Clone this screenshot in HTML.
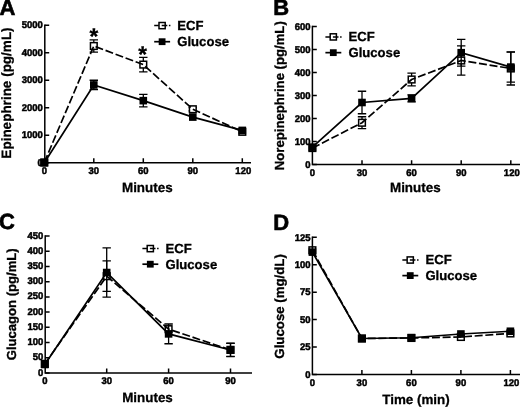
<!DOCTYPE html>
<html><head><meta charset="utf-8"><title>Figure</title>
<style>
html,body{margin:0;padding:0;background:#fff;}
svg{display:block;filter:blur(0.35px);}
text{font-family:"Liberation Sans", sans-serif;font-weight:bold;fill:#000;stroke:#000;stroke-width:0.3px;text-rendering:geometricPrecision;}
.tk{font-size:9.8px;stroke-width:0.5px;}
.lg{font-size:13.1px;}
.ax{font-size:13.4px;}
.lt{font-size:22px;stroke-width:0.6px;}
.st{font-size:22.5px;}
</style></head><body>
<svg width="520" height="407" viewBox="0 0 520 407">
<rect width="520" height="407" fill="#fff"/>
<text transform="translate(42.9 165.65) scale(0.97,1)" text-anchor="end" class="tk">0</text>
<text transform="translate(42.9 138.17) scale(0.97,1)" text-anchor="end" class="tk">1000</text>
<text transform="translate(42.9 110.69) scale(0.97,1)" text-anchor="end" class="tk">2000</text>
<text transform="translate(42.9 83.21) scale(0.97,1)" text-anchor="end" class="tk">3000</text>
<text transform="translate(42.9 55.73) scale(0.97,1)" text-anchor="end" class="tk">4000</text>
<text transform="translate(42.9 28.25) scale(0.97,1)" text-anchor="end" class="tk">5000</text>
<text transform="translate(44.3 173.9) scale(0.97,1)" text-anchor="middle" class="tk">0</text>
<text transform="translate(93.8 173.9) scale(0.97,1)" text-anchor="middle" class="tk">30</text>
<text transform="translate(143.3 173.9) scale(0.97,1)" text-anchor="middle" class="tk">60</text>
<text transform="translate(192.8 173.9) scale(0.97,1)" text-anchor="middle" class="tk">90</text>
<text transform="translate(243.3 173.9) scale(0.97,1)" text-anchor="middle" class="tk">120</text>
<path d="M93.8 39.95V52.04M89.6 39.95h8.4M89.6 52.04h8.4M143.3 57.31V71.88M139.1 57.31h8.4M139.1 71.88h8.4M192.8 107.6V110.9M188.6 107.6h8.4M188.6 110.9h8.4" fill="none" stroke="#000" stroke-width="1.3"/>
<rect x="40.95" y="159.08" width="6.7" height="6.7" fill="#fff" stroke="#000" stroke-width="1.5"/>
<rect x="90.45" y="42.64" width="6.7" height="6.7" fill="#fff" stroke="#000" stroke-width="1.5"/>
<rect x="139.95" y="61.25" width="6.7" height="6.7" fill="#fff" stroke="#000" stroke-width="1.5"/>
<rect x="189.45" y="105.9" width="6.7" height="6.7" fill="#fff" stroke="#000" stroke-width="1.5"/>
<rect x="238.95" y="128.46" width="6.7" height="6.7" fill="#fff" stroke="#000" stroke-width="1.5"/>
<path d="M44.3 162.43 L93.8 45.99 L143.3 64.6 L192.8 109.25 L242.3 131.81" fill="none" stroke="#000" stroke-width="1.7" stroke-dasharray="8 2.7" stroke-dashoffset="0"/>
<path d="M93.8 80.26V89.66M89.6 80.26h8.4M89.6 89.66h8.4M143.3 94.47V106.83M139.1 94.47h8.4M139.1 106.83h8.4" fill="none" stroke="#000" stroke-width="1.3"/>
<rect x="40.5" y="158.9" width="7.6" height="7.6" fill="#000"/>
<rect x="90" y="81.16" width="7.6" height="7.6" fill="#000"/>
<rect x="139.5" y="96.85" width="7.6" height="7.6" fill="#000"/>
<rect x="189" y="113.28" width="7.6" height="7.6" fill="#000"/>
<rect x="238.5" y="126.61" width="7.6" height="7.6" fill="#000"/>
<path d="M44.3 162.7 L93.8 84.96 L143.3 100.65 L192.8 117.08 L242.3 130.41" fill="none" stroke="#000" stroke-width="1.7"/>
<path d="M44.8 24.55V162.7H251" fill="none" stroke="#000" stroke-width="1.5" stroke-linejoin="miter"/>
<path d="M44.8 162.7h4.4M44.8 135.22h4.4M44.8 107.74h4.4M44.8 80.26h4.4M44.8 52.78h4.4M44.8 25.3h4.4M93.8 162.7v-4.4M143.3 162.7v-4.4M192.8 162.7v-4.4M242.3 162.7v-4.4" stroke="#000" stroke-width="1.5" fill="none"/>
<rect x="159" y="22.5" width="6.2" height="6.2" fill="#fff" stroke="#000" stroke-width="1.5"/>
<path d="M154.2 25.6h4.6M161.7 25.6h5.6M168.9 25.6h1.5" stroke="#000" stroke-width="1.5" fill="none"/>
<path d="M154.2 41.7h15.9" stroke="#000" stroke-width="1.7" fill="none"/>
<rect x="158.7" y="38.3" width="6.8" height="6.8" fill="#000"/>
<text x="177.3" y="30" class="lg">ECF</text>
<text x="177.3" y="46.3" class="lg">Glucose</text>
<text x="-0.6" y="14.8" class="lt">A</text>
<text transform="translate(11.2 93) rotate(-90)" text-anchor="middle" class="ax" style="font-size:13.5px">Epinephrine (pg/mL)</text>
<text x="147.3" y="192.1" text-anchor="middle" class="ax">Minutes</text>
<text x="93.8" y="44.4" text-anchor="middle" class="st">*</text>
<text x="142.7" y="61.6" text-anchor="middle" class="st">*</text>
<text transform="translate(310.5 168.3) scale(0.97,1)" text-anchor="end" class="tk">0</text>
<text transform="translate(310.5 145.3) scale(0.97,1)" text-anchor="end" class="tk">100</text>
<text transform="translate(310.5 122.3) scale(0.97,1)" text-anchor="end" class="tk">200</text>
<text transform="translate(310.5 99.3) scale(0.97,1)" text-anchor="end" class="tk">300</text>
<text transform="translate(310.5 76.3) scale(0.97,1)" text-anchor="end" class="tk">400</text>
<text transform="translate(310.5 53.3) scale(0.97,1)" text-anchor="end" class="tk">500</text>
<text transform="translate(310.5 30.3) scale(0.97,1)" text-anchor="end" class="tk">600</text>
<text transform="translate(312.4 175.8) scale(0.97,1)" text-anchor="middle" class="tk">0</text>
<text transform="translate(362 175.8) scale(0.97,1)" text-anchor="middle" class="tk">30</text>
<text transform="translate(411.6 175.8) scale(0.97,1)" text-anchor="middle" class="tk">60</text>
<text transform="translate(461.2 175.8) scale(0.97,1)" text-anchor="middle" class="tk">90</text>
<text transform="translate(511.8 175.8) scale(0.97,1)" text-anchor="middle" class="tk">120</text>
<path d="M362 116.76V128.72M357.8 116.76h8.4M357.8 128.72h8.4M411.6 73.06V85.94M407.4 73.06h8.4M407.4 85.94h8.4M461.2 45.78V75.22M457 45.78h8.4M457 75.22h8.4M510.8 51.9V85.02M506.6 51.9h8.4M506.6 85.02h8.4" fill="none" stroke="#000" stroke-width="1.3"/>
<rect x="309.05" y="144.69" width="6.7" height="6.7" fill="#fff" stroke="#000" stroke-width="1.5"/>
<rect x="358.65" y="119.39" width="6.7" height="6.7" fill="#fff" stroke="#000" stroke-width="1.5"/>
<rect x="408.25" y="76.15" width="6.7" height="6.7" fill="#fff" stroke="#000" stroke-width="1.5"/>
<rect x="457.85" y="57.15" width="6.7" height="6.7" fill="#fff" stroke="#000" stroke-width="1.5"/>
<rect x="507.45" y="65.11" width="6.7" height="6.7" fill="#fff" stroke="#000" stroke-width="1.5"/>
<path d="M312.4 148.04 L362 122.74 L411.6 79.5 L461.2 60.5 L510.8 68.46" fill="none" stroke="#000" stroke-width="1.7" stroke-dasharray="8 2.7" stroke-dashoffset="0"/>
<path d="M362 91.23V113.77M357.8 91.23h8.4M357.8 113.77h8.4M411.6 94.91V101.81M407.4 94.91h8.4M407.4 101.81h8.4M461.2 39.36V66.04M457 39.36h8.4M457 66.04h8.4M510.8 52.13V82.03M506.6 52.13h8.4M506.6 82.03h8.4" fill="none" stroke="#000" stroke-width="1.3"/>
<rect x="308.6" y="143.32" width="7.6" height="7.6" fill="#000"/>
<rect x="358.2" y="98.7" width="7.6" height="7.6" fill="#000"/>
<rect x="407.8" y="94.56" width="7.6" height="7.6" fill="#000"/>
<rect x="457.4" y="48.9" width="7.6" height="7.6" fill="#000"/>
<rect x="507" y="63.28" width="7.6" height="7.6" fill="#000"/>
<path d="M312.4 147.12 L362 102.5 L411.6 98.36 L461.2 52.7 L510.8 67.08" fill="none" stroke="#000" stroke-width="1.7"/>
<path d="M312.4 25.85V164.6H520" fill="none" stroke="#000" stroke-width="1.5" stroke-linejoin="miter"/>
<path d="M312.4 164.6h4.4M312.4 141.6h4.4M312.4 118.6h4.4M312.4 95.6h4.4M312.4 72.6h4.4M312.4 49.6h4.4M312.4 26.6h4.4M362 164.6v-4.4M411.6 164.6v-4.4M461.2 164.6v-4.4M510.8 164.6v-4.4" stroke="#000" stroke-width="1.5" fill="none"/>
<rect x="330.2" y="33.8" width="6.2" height="6.2" fill="#fff" stroke="#000" stroke-width="1.5"/>
<path d="M325.4 36.9h4.6M332.9 36.9h5.6M340.1 36.9h1.5" stroke="#000" stroke-width="1.5" fill="none"/>
<path d="M325.4 52.65h15.9" stroke="#000" stroke-width="1.7" fill="none"/>
<rect x="329.9" y="49.25" width="6.8" height="6.8" fill="#000"/>
<text x="348.5" y="41.3" class="lg">ECF</text>
<text x="348.5" y="57.25" class="lg">Glucose</text>
<text x="273.2" y="14.8" class="lt">B</text>
<text transform="translate(284.1 95.7) rotate(-90)" text-anchor="middle" class="ax" style="font-size:13.15px">Norepinephrine (pg/mL)</text>
<text x="415.3" y="191.8" text-anchor="middle" class="ax">Minutes</text>
<text transform="translate(43.3 375.6) scale(0.97,1)" text-anchor="end" class="tk">0</text>
<text transform="translate(43.3 360.38) scale(0.97,1)" text-anchor="end" class="tk">50</text>
<text transform="translate(43.3 345.16) scale(0.97,1)" text-anchor="end" class="tk">100</text>
<text transform="translate(43.3 329.93) scale(0.97,1)" text-anchor="end" class="tk">150</text>
<text transform="translate(43.3 314.71) scale(0.97,1)" text-anchor="end" class="tk">200</text>
<text transform="translate(43.3 299.49) scale(0.97,1)" text-anchor="end" class="tk">250</text>
<text transform="translate(43.3 284.27) scale(0.97,1)" text-anchor="end" class="tk">300</text>
<text transform="translate(43.3 269.04) scale(0.97,1)" text-anchor="end" class="tk">350</text>
<text transform="translate(43.3 253.82) scale(0.97,1)" text-anchor="end" class="tk">400</text>
<text transform="translate(43.3 238.6) scale(0.97,1)" text-anchor="end" class="tk">450</text>
<text transform="translate(44.8 384.2) scale(0.97,1)" text-anchor="middle" class="tk">0</text>
<text transform="translate(106.7 384.2) scale(0.97,1)" text-anchor="middle" class="tk">30</text>
<text transform="translate(168.6 384.2) scale(0.97,1)" text-anchor="middle" class="tk">60</text>
<text transform="translate(230.5 384.2) scale(0.97,1)" text-anchor="middle" class="tk">90</text>
<path d="M106.7 260.96V291.41M102.5 260.96h8.4M102.5 291.41h8.4M230.5 343.26V356.47M226.3 343.26h8.4M226.3 356.47h8.4" fill="none" stroke="#000" stroke-width="1.3"/>
<rect x="41.45" y="360.52" width="6.7" height="6.7" fill="#fff" stroke="#000" stroke-width="1.5"/>
<rect x="103.35" y="272.84" width="6.7" height="6.7" fill="#fff" stroke="#000" stroke-width="1.5"/>
<rect x="165.25" y="325.81" width="6.7" height="6.7" fill="#fff" stroke="#000" stroke-width="1.5"/>
<rect x="227.15" y="346.51" width="6.7" height="6.7" fill="#fff" stroke="#000" stroke-width="1.5"/>
<path d="M44.8 363.87 L106.7 276.19 L168.6 329.16 L230.5 349.86" fill="none" stroke="#000" stroke-width="1.7" stroke-dasharray="8 2.7" stroke-dashoffset="0"/>
<path d="M106.7 247.87V297.19M102.5 247.87h8.4M102.5 297.19h8.4M168.6 323.98V343.77M164.4 323.98h8.4M164.4 343.77h8.4M230.5 343.41V356.62M226.3 343.41h8.4M226.3 356.62h8.4" fill="none" stroke="#000" stroke-width="1.3"/>
<rect x="41" y="360.68" width="7.6" height="7.6" fill="#000"/>
<rect x="102.9" y="268.73" width="7.6" height="7.6" fill="#000"/>
<rect x="164.8" y="330.08" width="7.6" height="7.6" fill="#000"/>
<rect x="226.7" y="346.21" width="7.6" height="7.6" fill="#000"/>
<path d="M44.8 364.48 L106.7 272.53 L168.6 333.88 L230.5 350.01" fill="none" stroke="#000" stroke-width="1.7"/>
<path d="M45.2 235.25V373H252" fill="none" stroke="#000" stroke-width="1.5" stroke-linejoin="miter"/>
<path d="M45.2 373h4.4M45.2 357.78h4.4M45.2 342.56h4.4M45.2 327.33h4.4M45.2 312.11h4.4M45.2 296.89h4.4M45.2 281.67h4.4M45.2 266.44h4.4M45.2 251.22h4.4M45.2 236h4.4M106.7 373v-4.4M168.6 373v-4.4M230.5 373v-4.4" stroke="#000" stroke-width="1.5" fill="none"/>
<rect x="147.2" y="245.5" width="6.2" height="6.2" fill="#fff" stroke="#000" stroke-width="1.5"/>
<path d="M142.4 248.6h4.6M149.9 248.6h5.6M157.1 248.6h1.5" stroke="#000" stroke-width="1.5" fill="none"/>
<path d="M142.4 264.2h15.9" stroke="#000" stroke-width="1.7" fill="none"/>
<rect x="146.9" y="260.8" width="6.8" height="6.8" fill="#000"/>
<text x="165.5" y="253" class="lg">ECF</text>
<text x="165.5" y="268.8" class="lg">Glucose</text>
<text x="-1" y="229.2" class="lt">C</text>
<text transform="translate(16.4 304.3) rotate(-90)" text-anchor="middle" class="ax" style="font-size:13.1px">Glucagon (pg/mL)</text>
<text x="147.5" y="402.2" text-anchor="middle" class="ax">Minutes</text>
<text transform="translate(310.5 377.7) scale(0.97,1)" text-anchor="end" class="tk">0</text>
<text transform="translate(310.5 350.26) scale(0.97,1)" text-anchor="end" class="tk">25</text>
<text transform="translate(310.5 322.82) scale(0.97,1)" text-anchor="end" class="tk">50</text>
<text transform="translate(310.5 295.38) scale(0.97,1)" text-anchor="end" class="tk">75</text>
<text transform="translate(310.5 267.94) scale(0.97,1)" text-anchor="end" class="tk">100</text>
<text transform="translate(310.5 240.5) scale(0.97,1)" text-anchor="end" class="tk">125</text>
<text transform="translate(312.4 385.7) scale(0.97,1)" text-anchor="middle" class="tk">0</text>
<text transform="translate(361.9 385.7) scale(0.97,1)" text-anchor="middle" class="tk">30</text>
<text transform="translate(411.4 385.7) scale(0.97,1)" text-anchor="middle" class="tk">60</text>
<text transform="translate(460.9 385.7) scale(0.97,1)" text-anchor="middle" class="tk">90</text>
<text transform="translate(511.4 385.7) scale(0.97,1)" text-anchor="middle" class="tk">120</text>
<rect x="309.05" y="246.9" width="6.7" height="6.7" fill="#fff" stroke="#000" stroke-width="1.5"/>
<rect x="358.55" y="335.15" width="6.7" height="6.7" fill="#fff" stroke="#000" stroke-width="1.5"/>
<rect x="408.05" y="334.6" width="6.7" height="6.7" fill="#fff" stroke="#000" stroke-width="1.5"/>
<rect x="457.55" y="333.61" width="6.7" height="6.7" fill="#fff" stroke="#000" stroke-width="1.5"/>
<rect x="507.05" y="330.1" width="6.7" height="6.7" fill="#fff" stroke="#000" stroke-width="1.5"/>
<path d="M312.4 250.25 L361.9 338.5 L411.4 337.95 L460.9 336.96 L510.4 333.45" fill="none" stroke="#000" stroke-width="1.7" stroke-dasharray="8 2.7" stroke-dashoffset="0"/>
<rect x="308.6" y="248.32" width="7.6" height="7.6" fill="#000"/>
<rect x="358.1" y="334.7" width="7.6" height="7.6" fill="#000"/>
<rect x="407.6" y="333.93" width="7.6" height="7.6" fill="#000"/>
<rect x="457.1" y="330.2" width="7.6" height="7.6" fill="#000"/>
<rect x="506.6" y="327.45" width="7.6" height="7.6" fill="#000"/>
<path d="M312.4 252.12 L361.9 338.5 L411.4 337.73 L460.9 334 L510.4 331.25" fill="none" stroke="#000" stroke-width="1.7"/>
<path d="M312.4 236.55V374.5H520" fill="none" stroke="#000" stroke-width="1.5" stroke-linejoin="miter"/>
<path d="M312.4 374.5h4.4M312.4 347.06h4.4M312.4 319.62h4.4M312.4 292.18h4.4M312.4 264.74h4.4M312.4 237.3h4.4M361.9 374.5v-4.4M411.4 374.5v-4.4M460.9 374.5v-4.4M510.4 374.5v-4.4" stroke="#000" stroke-width="1.5" fill="none"/>
<rect x="407.15" y="256.9" width="6.2" height="6.2" fill="#fff" stroke="#000" stroke-width="1.5"/>
<path d="M402.35 260h4.6M409.85 260h5.6M417.05 260h1.5" stroke="#000" stroke-width="1.5" fill="none"/>
<path d="M402.35 275.6h15.9" stroke="#000" stroke-width="1.7" fill="none"/>
<rect x="406.85" y="272.2" width="6.8" height="6.8" fill="#000"/>
<text x="425.45" y="264.4" class="lg">ECF</text>
<text x="425.45" y="280.2" class="lg">Glucose</text>
<text x="273.2" y="229.9" class="lt">D</text>
<text transform="translate(284.1 306.4) rotate(-90)" text-anchor="middle" class="ax" style="font-size:13.25px">Glucose (mg/dL)</text>
<text x="416" y="404.2" text-anchor="middle" class="ax">Time (min)</text>
</svg>
</body></html>
